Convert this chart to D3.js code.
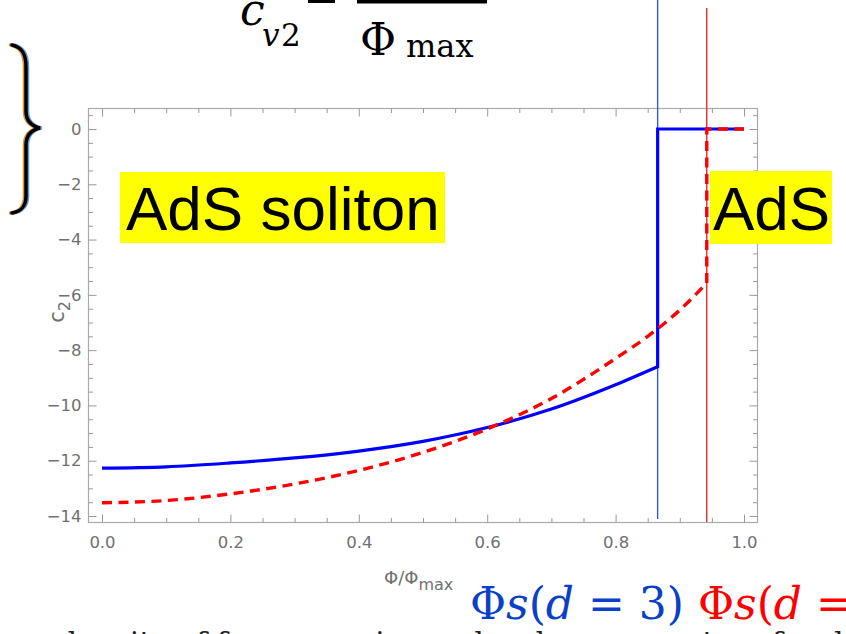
<!DOCTYPE html>
<html>
<head>
<meta charset="utf-8">
<script src="https://cdn.jsdelivr.net/npm/d3@7"></script>
<style>
  body { margin: 0; background: #fff; }
  svg { display: block; }
</style>
</head>
<body>
<svg id="chart" width="846" height="634"></svg>
<script>
// solid blue curve (d = 3) before the jump
const phiBlue = [0, 0.1, 0.2, 0.3, 0.4, 0.5, 0.6, 0.7, 0.8, 0.8655]
const c2Blue = [-12.27, -12.22, -12.08, -11.9, -11.65, -11.3, -10.8, -10.13, -9.25, -8.6]
// dashed red curve before the jump
const phiRed = [0, 0.1, 0.2, 0.3, 0.4, 0.5, 0.6, 0.7, 0.8, 0.85, 0.9, 0.942]
const c2Red = [-13.52, -13.44, -13.2, -12.84, -12.35, -11.7, -10.85, -9.75, -8.3, -7.5, -6.55, -5.57]
// step part (jump to zero, then flat)
const stepBluePhi = [0.8655, 0.8655, 1.0]
const stepBlueC2 = [-8.6, 0, 0]
const stepRedPhi = [0.942, 0.942, 1.0]
const stepRedC2 = [-5.57, 0, 0]

const xMajor = [0, 0.2, 0.4, 0.6, 0.8, 1.0]
const yMajor = [0, -2, -4, -6, -8, -10, -12, -14]

const svg = d3.select("#chart")

const frame = { left: 88.5, right: 757.5, top: 108.5, bottom: 522.5 }
const x = d3.scaleLinear([0, 1], [102, 744])
const y = d3.scaleLinear([0, -14], [129, 516])

const xMinor = d3.range(0, 1.0001, 0.05).filter((v) => !xMajor.some((m) => Math.abs(m - v) < 1e-6))
const yMinor = d3
  .range(0.5, -14.3, -0.5)
  .filter((v) => !yMajor.includes(v))
  .filter((v) => y(v) > frame.top + 1 && y(v) < frame.bottom - 1)

// frame
svg
  .append("rect")
  .attr("x", frame.left)
  .attr("y", frame.top)
  .attr("width", frame.right - frame.left)
  .attr("height", frame.bottom - frame.top)
  .attr("fill", "none")
  .attr("stroke", "#aaa")
  .attr("stroke-width", 1.2)

function addAxis(axis, tx, ty) {
  const g = svg.append("g").attr("transform", `translate(${tx},${ty})`).call(axis)
  g.select(".domain").remove()
  g.selectAll(".tick line").attr("stroke", "#999")
  g.selectAll(".tick text")
    .attr("font-family", "DejaVu Sans, sans-serif")
    .attr("font-size", 16.5)
    .attr("fill", "#707070")
  return g
}

// bottom / top
addAxis(d3.axisBottom(x).tickValues(xMajor).tickSize(-8).tickPadding(14).tickFormat(d3.format(".1f")), 0, frame.bottom)
addAxis(d3.axisBottom(x).tickValues(xMinor).tickSize(-4.5).tickFormat(""), 0, frame.bottom)
addAxis(d3.axisTop(x).tickValues(xMajor).tickSize(-8).tickFormat(""), 0, frame.top)
addAxis(d3.axisTop(x).tickValues(xMinor).tickSize(-4.5).tickFormat(""), 0, frame.top)
// left / right
addAxis(d3.axisLeft(y).tickValues(yMajor).tickSize(-8).tickPadding(7).tickFormat(d3.format("d")), frame.left, 0)
addAxis(d3.axisLeft(y).tickValues(yMinor).tickSize(-4.5).tickFormat(""), frame.left, 0)
addAxis(d3.axisRight(y).tickValues(yMajor).tickSize(-8).tickFormat(""), frame.right, 0)
addAxis(d3.axisRight(y).tickValues(yMinor).tickSize(-4.5).tickFormat(""), frame.right, 0)

// axis titles
const yTitle = svg
  .append("text")
  .attr("transform", "translate(64,312) rotate(-90)")
  .attr("text-anchor", "middle")
  .attr("font-family", "DejaVu Sans, sans-serif")
  .attr("font-size", 21)
  .attr("fill", "#707070")
yTitle.append("tspan").text("c")
yTitle.append("tspan").attr("font-size", 16).attr("dy", 6).text("2")

const xTitle = svg
  .append("text")
  .attr("x", 384)
  .attr("y", 584)
  .attr("font-family", "DejaVu Sans, sans-serif")
  .attr("font-size", 18)
  .attr("fill", "#707070")
xTitle.append("tspan").text("Φ/Φ")
xTitle.append("tspan").attr("font-size", 16).attr("dy", 6).text("max")

// thin marker lines at the jumps
svg
  .append("line")
  .attr("x1", x(stepBluePhi[0]))
  .attr("x2", x(stepBluePhi[0]))
  .attr("y1", 0)
  .attr("y2", 519)
  .attr("stroke", "#2f5fe0")
  .attr("stroke-width", 1.4)
svg
  .append("line")
  .attr("x1", x(stepRedPhi[0]))
  .attr("x2", x(stepRedPhi[0]))
  .attr("y1", 8)
  .attr("y2", 522)
  .attr("stroke", "#e52b2b")
  .attr("stroke-width", 1.4)

const smooth = d3
  .line()
  .x((d) => x(d[0]))
  .y((d) => y(d[1]))
  .curve(d3.curveMonotoneX)
const straight = d3
  .line()
  .x((d) => x(d[0]))
  .y((d) => y(d[1]))

function curvePath(px, py, sx, sy) {
  const a = smooth(d3.zip(px, py))
  const b = straight(d3.zip(sx, sy)).replace(/^M/, "L")
  return a + b
}

svg
  .append("path")
  .attr("d", curvePath(phiBlue, c2Blue, stepBluePhi, stepBlueC2))
  .attr("fill", "none")
  .attr("stroke", "#0000ff")
  .attr("stroke-width", 3.2)

svg
  .append("path")
  .attr("d", curvePath(phiRed, c2Red, stepRedPhi, stepRedC2))
  .attr("fill", "none")
  .attr("stroke", "#ff0000")
  .attr("stroke-width", 3.4)
  .attr("stroke-dasharray", "10 6.5")

// yellow labels
function label(txt, bx, by, bw, bh, tx, ty) {
  svg.append("rect").attr("x", bx).attr("y", by).attr("width", bw).attr("height", bh).attr("fill", "#ffff00")
  svg
    .append("text")
    .attr("x", tx)
    .attr("y", ty)
    .attr("font-family", "Liberation Sans, Arial, sans-serif")
    .attr("font-size", 62)
    .attr("fill", "#000")
    .text(txt)
}
label("AdS soliton", 120, 172, 325, 71, 126, 230)
label("AdS", 710, 171, 122, 73, 713, 230)

// curly brace on the left
const brace = "M12,45 C22,47 26,54 26,67 L26,111 C26,121 31,126 40,128 C31,130 26,135 26,145 L26,196 C26,206 22,211 12,213"
const braceG = svg.append("g").attr("fill", "none").attr("stroke-linecap", "round")
braceG.append("path").attr("d", brace).attr("transform", "translate(-1.5,0)").attr("stroke", "#e0902e").attr("stroke-width", 3.5)
braceG.append("path").attr("d", brace).attr("transform", "translate(1.5,0)").attr("stroke", "#5a9ad8").attr("stroke-width", 3.5)
braceG.append("path").attr("d", brace).attr("stroke", "#000").attr("stroke-width", 3.5)

// formula cut off at the top
const math = "DejaVu Serif, serif"
const f = svg.append("g").attr("font-family", math).attr("fill", "#000")
f.append("text").attr("x", 240).attr("y", 25).attr("font-size", 44).attr("font-style", "italic").text("c")
f.append("text").attr("x", 262).attr("y", 46).attr("font-size", 31).attr("font-style", "italic").text("v")
f.append("text").attr("x", 281).attr("y", 46).attr("font-size", 31).text("2")
f.append("rect").attr("x", 308).attr("y", 0).attr("width", 27).attr("height", 3)
f.append("rect").attr("x", 357).attr("y", 0).attr("width", 130).attr("height", 3.5)
f.append("text").attr("x", 360).attr("y", 55).attr("font-size", 44).text("Φ")
f.append("text").attr("x", 406).attr("y", 57).attr("font-size", 32).text("max")

// legend-like captions at the bottom
const cap = svg.append("text").attr("x", 470).attr("y", 619).attr("font-family", math).attr("font-size", 44)
const blueCap = "#0a3fc8"
cap.append("tspan").attr("fill", blueCap).text("Φ")
cap.append("tspan").attr("fill", blueCap).attr("font-style", "italic").text("s")
cap.append("tspan").attr("fill", blueCap).text("(")
cap.append("tspan").attr("fill", blueCap).attr("font-style", "italic").text("d")
cap.append("tspan").attr("fill", blueCap).text(" = 3) ")
cap.append("tspan").attr("fill", "#ff0000").text("Φ")
cap.append("tspan").attr("fill", "#ff0000").attr("font-style", "italic").text("s")
cap.append("tspan").attr("fill", "#ff0000").text("(")
cap.append("tspan").attr("fill", "#ff0000").attr("font-style", "italic").text("d")
cap.append("tspan").attr("fill", "#ff0000").text(" = 4)")

// body text below, mostly cut off
svg
  .append("text")
  .attr("x", 58)
  .attr("y", 653)
  .attr("font-family", "DejaVu Serif, serif")
  .attr("font-size", 30)
  .attr("fill", "#222")
  .text("density of free energies and order parameters for d = 3 (solid black")
</script>
</body>
</html>
